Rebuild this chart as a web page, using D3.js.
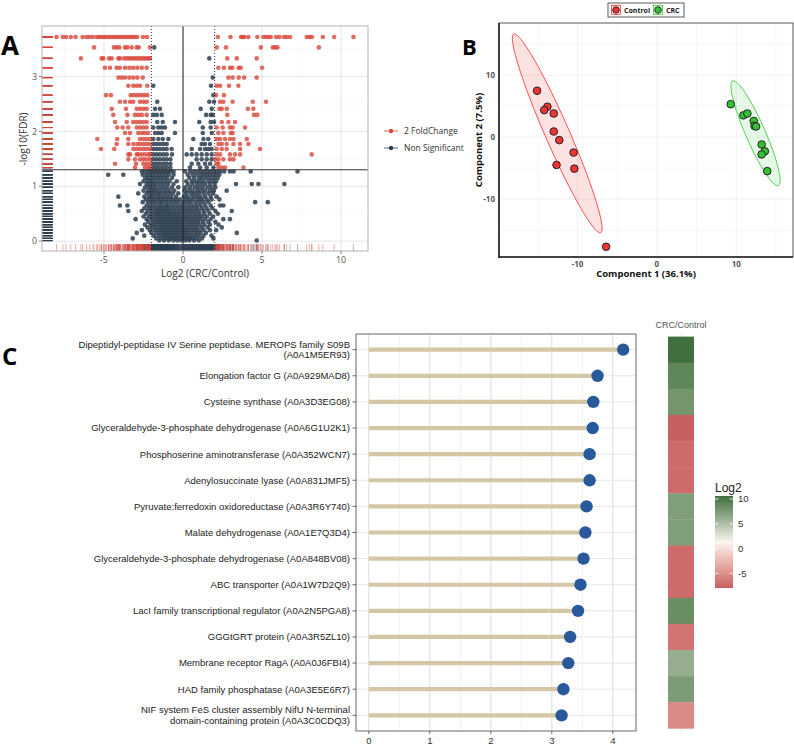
<!DOCTYPE html>
<html><head><meta charset="utf-8">
<script src="https://cdn.jsdelivr.net/npm/d3@7"></script>
<style>body{margin:0;background:#fff}</style>
</head><body><svg id="c" width="794" height="745" xmlns="http://www.w3.org/2000/svg"></svg>
<script>
// ================= DATA =================
// Panel A: volcano plot. Significant (red) points by -log10(FDR) level
const sigLevels = [3.72, 3.53, 3.33, 3.16, 2.98, 2.83, 2.66, 2.54, 2.41, 2.30, 2.17, 2.07, 1.97, 1.86, 1.77, 1.68, 1.58, 1.49, 1.41, 1.34];
const sigX = [
  [-8.0,-7.6,-7.4,-7.1,-6.8,-6.35,-6.1,-5.9,-5.7,-5.45,-5.3,-5.15,-5.0,-4.85,-4.7,-4.55,-4.4,-4.25,-4.1,-3.95,-3.8,-3.65,-3.5,-3.35,-3.2,-3.05,-2.9,-2.53,-2.28,2.2,3.0,3.67,3.78,3.88,4.13,4.7,5.08,5.25,5.4,5.55,5.89,6.1,6.39,6.56,6.77,7.83,8.0,8.15,8.84,9.56,10.78],
  [-5.63,-4.37,-4.2,-4.03,-3.67,-3.52,-3.25,-2.93,-2.8,-2.09,2.13,2.72,4.92,5.68,5.82,5.97,8.59],
  [-6.46,-5.15,-5.04,-4.68,-4.51,-4.09,-3.99,-3.73,-3.55,-3.4,-3.25,-3.1,-2.95,-2.8,-2.65,-2.5,-2.35,-2.2,-2.09,2.8,3.4,4.66],
  [-4.94,-4.62,-4.2,-4.0,-3.67,-3.4,-3.15,-2.89,-2.61,-2.3,2.23,2.59,2.97,3.12,3.52,3.65,5.0],
  [-4.09,-3.88,-3.67,-3.4,-3.15,-2.89,-2.55,2.87,3.14,3.52,3.86,4.66],
  [-3.46,-3.15,-2.93,-2.72,-2.26,2.13,2.34,2.91,3.5],
  [-4.87,-4.56,-3.31,-3.1,-2.89,-2.68,-2.47,-2.26,2.09,2.59],
  [-3.99,-3.67,-3.35,-3.15,-2.72,-2.51,-2.3,2.34,2.55,3.14,4.41,5.25],
  [-4.51,-3.61,-2.93,-2.72,-2.51,-2.3,2.3,2.45,2.77,4.1,4.45],
  [-4.41,-3.52,-3.04,-2.83,-2.61,-2.3,2.8,4.49,4.7],
  [-4.3,-3.56,-3.15,-2.93,-2.72,-2.51,-2.3,2.45,2.87,3.29],
  [-4.16,-3.82,-3.46,-2.93,-2.72,-2.51,-2.3,2.13,2.51,2.97,3.14,3.92],
  [-3.67,-3.35,-2.83,-2.61,-2.41,-2.2,2.23,2.55,3.02,3.14],
  [-5.42,-4.16,-3.46,-2.72,-2.51,-2.3,-2.1,2.13,2.34,2.66,2.97,3.19,4.03],
  [-4.2,-3.46,-3.14,-2.89,-2.72,-2.51,-2.3,-2.09,2.24,2.45,2.76,3.19,3.61,4.14],
  [-5.19,-4.35,-3.14,-2.93,-2.72,-2.51,-2.3,-2.09,2.13,2.45,2.76,3.61,4.87],
  [-3.46,-3.35,-2.93,-2.83,-2.62,-2.41,-2.19,-2.09,2.13,2.34,2.97,3.29,3.61,8.14],
  [-3.46,-3.04,-2.72,-2.51,-2.3,-2.09,2.03,2.24,2.55,2.97,3.19],
  [-4.3,-2.97,-2.51,-2.3,-2.09,2.13,2.24],
  [-3.04,-2.41,-2.19,-2.09,2.24,2.45,2.66,3.82]
];
// Non-significant points at the same levels (|log2FC| < 2)
const nsHighX = [
  [], [-1.82], [1.66], [], [1.88], [-1.88,1.77], [1.92], [-1.63,1.66,1.96],
  [-1.77,-1.46,1.12,1.82], [-1.88,-1.66,-1.35,1.46,1.75,1.88],
  [-1.63,-1.28,-0.51,1.03,1.75,1.96], [-1.88,-1.56,-1.35,-1.14,1.25,1.75],
  [-1.77,-1.56,-1.35,-0.51,1.25,1.82], [-1.88,-1.56,-1.28,-0.93,0.65,1.29,1.6],
  [-1.88,-1.67,-1.46,-1.24,-1.03,1.18,1.39,1.71],
  [-1.88,-1.67,-1.46,-1.24,-1.03,-0.72,0.55,1.08,1.39,1.6,1.81],
  [-1.88,-1.67,-1.46,-1.24,-1.03,-0.7,0.23,0.55,0.86,1.18,1.5,1.81],
  [-1.88,-1.67,-1.46,-1.24,-1.03,-0.8,0.86,1.18,1.5,1.81],
  [-1.88,-1.67,-1.46,-1.24,-1.03,-0.8,0.55,0.97,1.39,1.71],
  [-1.88,-1.67,-1.46,-1.24,-1.03,-0.8,0.44,1.08,1.5,1.92]
];
// Non-significant points below the FDR threshold
const nsLowLevels = [1.27,1.21,1.15,1.09,1.04,0.98,0.92,0.87,0.81,0.76,0.71,0.65,0.60,0.55,0.50,0.45,0.40,0.35,0.30,0.25,0.20,0.15,0.10,0.05,0.01];
const nsLowX = [
  [-2.6,-2.4,-2.2,-2.0,-1.85,-1.7,-1.55,-1.4,-1.25,-1.1,-0.95,-0.8,-0.6,0.13,0.45,0.7,0.95,1.15,1.35,1.55,1.75,1.95,2.15,2.35,2.6,2.97,3.2,4.28,7.24],
  [-4.73,-3.78,-2.55,-2.3,-2.1,-1.9,-1.7,-1.5,-1.3,-1.1,-0.9,-0.6,0.3,0.6,0.85,1.1,1.3,1.5,1.7,1.9,2.1,2.3],
  [-2.4,-2.2,-2.0,-1.8,-1.6,-1.4,-1.2,-1.0,-0.7,0.4,0.7,1.0,1.2,1.45,1.7,1.95,2.2],
  [-2.5,-2.25,-2.05,-1.85,-1.6,-1.35,-1.1,-0.85,-0.4,0.2,0.55,0.8,1.05,1.3,1.6,1.85,2.1],
  [-2.72,-2.3,-2.1,-1.9,-1.7,-1.45,-1.2,-0.95,-0.6,0.3,0.6,0.9,1.15,1.4,1.7,2.0,3.35,4.35,4.77,6.41],
  [-2.4,-2.15,-1.95,-1.75,-1.5,-1.25,-1.0,-0.7,-0.3,0.15,0.45,0.75,1.0,1.25,1.55,1.8,2.05],
  [-2.5,-2.2,-2.0,-1.8,-1.6,-1.35,-1.1,-0.85,-0.55,0.1,0.35,0.6,0.9,1.15,1.4,1.7,1.95,2.76],
  [-2.83,-2.3,-2.05,-1.85,-1.6,-1.4,-1.15,-0.9,-0.65,-0.3,0.2,0.5,0.75,1.0,1.3,1.6,1.9],
  [-4.09,-2.45,-2.15,-1.95,-1.7,-1.5,-1.25,-1.0,-0.75,-0.45,0.05,0.3,0.6,0.85,1.1,1.4,1.75,2.13],
  [-2.35,-2.1,-1.85,-1.6,-1.4,-1.2,-0.95,-0.7,-0.45,-0.2,0.15,0.4,0.65,0.95,1.2,1.5,1.8,2.3],
  [-2.55,-2.2,-1.95,-1.75,-1.5,-1.3,-1.05,-0.8,-0.55,-0.3,0.0,0.25,0.5,0.8,1.05,1.3,1.6,4.56,5.36],
  [-3.99,-3.52,-2.3,-2.05,-1.8,-1.55,-1.35,-1.1,-0.9,-0.65,-0.4,-0.15,0.1,0.35,0.6,0.85,1.1,1.4,1.75,2.34,2.55],
  [-2.45,-2.15,-1.9,-1.65,-1.45,-1.25,-1.05,-0.85,-0.6,-0.35,-0.1,0.15,0.4,0.65,0.9,1.2,1.5,1.85],
  [-3.46,-2.61,-2.25,-2.0,-1.75,-1.55,-1.35,-1.15,-0.95,-0.75,-0.5,-0.25,0.0,0.25,0.5,0.75,1.0,1.3,1.6,2.05,3.08],
  [-2.35,-2.05,-1.8,-1.6,-1.4,-1.2,-1.0,-0.8,-0.6,-0.4,-0.2,0.05,0.3,0.55,0.8,1.05,1.35,1.7,2.2],
  [-2.5,-2.15,-1.9,-1.65,-1.45,-1.25,-1.05,-0.85,-0.65,-0.45,-0.25,0.0,0.2,0.45,0.7,0.95,1.2,1.5,1.9],
  [-3.0,-2.3,-2.0,-1.75,-1.55,-1.35,-1.15,-0.95,-0.75,-0.55,-0.35,-0.15,0.1,0.35,0.6,0.85,1.1,1.4,1.75,2.55,2.97],
  [-2.2,-1.9,-1.65,-1.45,-1.25,-1.05,-0.85,-0.65,-0.45,-0.25,-0.05,0.2,0.45,0.7,0.95,1.25,1.6,2.05],
  [-2.41,-2.05,-1.8,-1.55,-1.35,-1.15,-0.95,-0.75,-0.55,-0.35,-0.15,0.05,0.3,0.55,0.8,1.05,1.35,1.7,2.24],
  [-2.25,-1.95,-1.7,-1.45,-1.25,-1.05,-0.85,-0.65,-0.45,-0.25,-0.05,0.15,0.4,0.65,0.9,1.2,1.55,2.45],
  [-2.6,-2.1,-1.8,-1.55,-1.35,-1.15,-0.95,-0.75,-0.55,-0.35,-0.15,0.05,0.25,0.5,0.75,1.0,1.3,1.7,2.1],
  [-2.93,-2.0,-1.7,-1.45,-1.25,-1.05,-0.85,-0.65,-0.45,-0.25,-0.05,0.15,0.35,0.6,0.85,1.1,1.45,3.4],
  [-2.45,-1.85,-1.55,-1.3,-1.1,-0.9,-0.7,-0.5,-0.3,-0.1,0.1,0.3,0.5,0.75,1.0,1.3,1.8],
  [-3.18,-1.7,-1.4,-1.15,-0.95,-0.75,-0.55,-0.35,-0.15,0.05,0.25,0.45,0.65,0.9,1.2,1.92],
  [-1.5,-1.2,-0.9,-0.6,-0.35,-0.1,0.15,0.4,0.7,1.0,4.66]
];
const volcanoXTicks = [-5, 0, 5, 10];
const volcanoYTicks = [0, 1, 2, 3];
const volcanoLegend = ["2 FoldChange", "Non Significant"];

// Panel B: PCA scores
const controlPC1 = [-15.1,-13.8,-14.2,-13.0,-13.0,-12.3,-10.5,-12.65,-10.4,-6.4];
const controlPC2 = [7.47,4.9,4.35,3.8,0.9,-0.5,-2.5,-4.5,-5.1,-17.7];
const crcPC1 = [9.3,10.9,11.4,12.2,12.3,12.5,13.2,13.6,13.2,13.9];
const crcPC2 = [5.3,3.5,3.8,2.6,1.8,1.7,-1.2,-2.3,-2.8,-5.5];
const pcaTicks = [-10, 0, 10];
const pcaGroups = ["Control", "CRC"];

// Panel C: lollipop + heatmap
const proteins = [
  "Dipeptidyl-peptidase IV Serine peptidase. MEROPS family S09B\n(A0A1M5ER93)",
  "Elongation factor G (A0A929MAD8)",
  "Cysteine synthase (A0A3D3EG08)",
  "Glyceraldehyde-3-phosphate dehydrogenase (A0A6G1U2K1)",
  "Phosphoserine aminotransferase (A0A352WCN7)",
  "Adenylosuccinate lyase (A0A831JMF5)",
  "Pyruvate:ferredoxin oxidoreductase (A0A3R6Y740)",
  "Malate dehydrogenase (A0A1E7Q3D4)",
  "Glyceraldehyde-3-phosphate dehydrogenase (A0A848BV08)",
  "ABC transporter (A0A1W7D2Q9)",
  "LacI family transcriptional regulator (A0A2N5PGA8)",
  "GGGtGRT protein (A0A3R5ZL10)",
  "Membrane receptor RagA (A0A0J6FBI4)",
  "HAD family phosphatase (A0A3E5E6R7)",
  "NIF system FeS cluster assembly NifU N-terminal\ndomain-containing protein (A0A3C0CDQ3)"
];
const importance = [4.17,3.75,3.68,3.67,3.62,3.62,3.57,3.55,3.52,3.47,3.43,3.30,3.27,3.19,3.16];
const log2FC = [10.6,9.0,7.9,-7.95,-7.3,-7.3,7.3,7.3,-7.3,-7.3,8.4,-6.7,6.2,7.5,-5.3];
const importanceTicks = [0,1,2,3,4];
const log2Ticks = [10,5,0,-5];

// ================= DRAW =================
const svg = d3.select("#c");
const OS = "'Open Sans', 'Noto Sans', sans-serif";
const LS = "'Liberation Sans', Arial, sans-serif";

// ---------- Panel A ----------
(function(){
  const x = d3.scaleLinear().domain([-8.92, 11.7]).range([42, 368]);
  const y = d3.scaleLinear().domain([-0.18, 3.92]).range([251, 26]);
  const g = svg.append("g");
  const RED = "#d8463a", DARK = "#2c3e50";
  g.append("rect").attr("x",42).attr("y",26).attr("width",326).attr("height",225).attr("fill","#fff");
  const minorX = [-7.5,-2.5,2.5,7.5], minorY = [0.5,1.5,2.5,3.5];
  g.selectAll(".mx").data(minorX).join("line").attr("x1",d=>x(d)).attr("x2",d=>x(d)).attr("y1",26).attr("y2",251).attr("stroke","#f2f2f2").attr("stroke-width",0.6);
  g.selectAll(".my").data(minorY).join("line").attr("y1",d=>y(d)).attr("y2",d=>y(d)).attr("x1",42).attr("x2",368).attr("stroke","#f2f2f2").attr("stroke-width",0.6);
  g.selectAll(".gx").data(volcanoXTicks).join("line").attr("x1",d=>x(d)).attr("x2",d=>x(d)).attr("y1",26).attr("y2",251).attr("stroke","#e3e3e3").attr("stroke-width",0.9);
  g.selectAll(".gy").data(volcanoYTicks).join("line").attr("y1",d=>y(d)).attr("y2",d=>y(d)).attr("x1",42).attr("x2",368).attr("stroke","#e3e3e3").attr("stroke-width",0.9);

  const pts = [];
  nsLowLevels.forEach((lv,i)=>nsLowX[i].forEach(v=>pts.push({x:v,y:lv,s:false})));
  sigLevels.forEach((lv,i)=>nsHighX[i].forEach(v=>pts.push({x:v,y:lv,s:false})));
  sigLevels.forEach((lv,i)=>sigX[i].forEach(v=>pts.push({x:v,y:lv,s:true})));

  // rugs
  g.selectAll(".rl").data(pts).join("line").attr("x1",42).attr("x2",42+10.5).attr("y1",d=>y(d.y)).attr("y2",d=>y(d.y))
    .attr("stroke",d=>d.s?RED:DARK).attr("stroke-opacity",0.55).attr("stroke-width",0.8);
  g.selectAll(".rb").data(pts).join("line").attr("y1",251).attr("y2",251-6.8).attr("x1",d=>x(d.x)).attr("x2",d=>x(d.x))
    .attr("stroke",d=>d.s?RED:DARK).attr("stroke-opacity",0.55).attr("stroke-width",0.8);

  g.selectAll(".p").data(pts).join("circle").attr("cx",d=>x(d.x)).attr("cy",d=>y(d.y)).attr("r",2.3)
    .attr("fill",d=>d.s?RED:DARK).attr("fill-opacity",d=>d.s?0.8:0.85);

  // reference lines
  g.append("line").attr("x1",42).attr("x2",368).attr("y1",y(1.3)).attr("y2",y(1.3)).attr("stroke","#333").attr("stroke-width",1);
  g.append("line").attr("x1",x(0)).attr("x2",x(0)).attr("y1",26).attr("y2",251).attr("stroke","#222").attr("stroke-width",1);
  [-2,2].forEach(v=>g.append("line").attr("x1",x(v)).attr("x2",x(v)).attr("y1",26).attr("y2",251).attr("stroke","#222").attr("stroke-width",0.9).attr("stroke-dasharray","1,2"));

  g.append("rect").attr("x",42).attr("y",26).attr("width",326).attr("height",225).attr("fill","none").attr("stroke","#b3b3b3").attr("stroke-width",1);

  // ticks
  g.selectAll(".tx").data(volcanoXTicks).join("line").attr("x1",d=>x(d)).attr("x2",d=>x(d)).attr("y1",251).attr("y2",254).attr("stroke","#888");
  g.selectAll(".txl").data(volcanoXTicks).join("text").attr("x",d=>x(d)).attr("y",263).attr("text-anchor","middle")
    .attr("font-family",OS).attr("font-size",8.8).attr("fill","#555").text(d=>d);
  g.selectAll(".ty").data(volcanoYTicks).join("line").attr("x1",39).attr("x2",42).attr("y1",d=>y(d)).attr("y2",d=>y(d)).attr("stroke","#888");
  g.selectAll(".tyl").data(volcanoYTicks).join("text").attr("x",37).attr("y",d=>y(d)+3.2).attr("text-anchor","end")
    .attr("font-family",OS).attr("font-size",8.8).attr("fill","#555").text(d=>d);
  g.append("text").attr("transform","translate(27,139) rotate(-90)").attr("text-anchor","middle")
    .attr("font-family",OS).attr("font-size",10).attr("fill","#333").text("-log10(FDR)");
  g.append("text").attr("x",205).attr("y",276.5).attr("text-anchor","middle")
    .attr("font-family",OS).attr("font-size",10).attr("fill","#333").text("Log2 (CRC/Control)");

  // legend
  const lg = g.append("g");
  volcanoLegend.forEach((t,i)=>{
    const yy = 131 + i*17;
    const c = i===0?RED:DARK;
    lg.append("line").attr("x1",384).attr("x2",398).attr("y1",yy).attr("y2",yy).attr("stroke",c).attr("stroke-width",0.8);
    lg.append("circle").attr("cx",391).attr("cy",yy).attr("r",2.2).attr("fill",c);
    lg.append("text").attr("x",404).attr("y",yy+3).attr("font-family",OS).attr("font-size",8.5).attr("fill","#333").text(t);
  });
  svg.append("text").attr("x",1).attr("y",55).attr("font-family",OS).attr("font-weight",700).attr("font-size",26).attr("fill","#000").text("A");
})();

// ---------- Panel B ----------
(function(){
  const x = d3.scaleLinear().domain([-19.9, 17.15]).range([499, 793]);
  const y = d3.scaleLinear().domain([-19.35, 18.4]).range([257, 23]);
  const g = svg.append("g");
  const RED = "#ee3434", GREEN = "#33c233";
  const grid = [-15,-10,-5,0,5,10,15];
  g.selectAll(".gx").data(grid).join("line").attr("x1",d=>x(d)).attr("x2",d=>x(d)).attr("y1",23).attr("y2",257).attr("stroke",d=>d%10===0?"#ececec":"#f4f4f4").attr("stroke-width",0.8);
  g.selectAll(".gy").data(grid).join("line").attr("y1",d=>y(d)).attr("y2",d=>y(d)).attr("x1",499).attr("x2",793).attr("stroke",d=>d%10===0?"#ececec":"#f4f4f4").attr("stroke-width",0.8);

  function covTrob(P, nu){
    const n=P.length, p=2;
    let w=P.map(()=>1);
    let loc=[d3.mean(P,d=>d[0]), d3.mean(P,d=>d[1])];
    let X;
    for(let it=0; it<100; it++){
      const w0=w.slice();
      X=P.map(d=>[d[0]-loc[0], d[1]-loc[1]]);
      const sw=d3.sum(w);
      let a=0,b=0,c=0;
      X.forEach((d,i)=>{a+=w[i]*d[0]*d[0]; b+=w[i]*d[0]*d[1]; c+=w[i]*d[1]*d[1];});
      a/=sw; b/=sw; c/=sw;
      const det=a*c-b*b;
      const Q=X.map(d=>(c*d[0]*d[0]-2*b*d[0]*d[1]+a*d[1]*d[1])/det);
      w=Q.map(q=>(nu+p)/(nu+q));
      const s2=d3.sum(w);
      loc=[d3.sum(P,(d,i)=>w[i]*d[0])/s2, d3.sum(P,(d,i)=>w[i]*d[1])/s2];
      if(w.every((v,i)=>Math.abs(v-w0[i])<1e-4)) break;
    }
    let a=0,b=0,c=0;
    X.forEach((d,i)=>{a+=w[i]*d[0]*d[0]; b+=w[i]*d[0]*d[1]; c+=w[i]*d[1]*d[1];});
    return {loc, a:a/n, b:b/n, c:c/n};
  }
  function ellipse(px, py){
    const P = px.map((v,i)=>[v, py[i]]);
    const e = covTrob(P, 5);
    const r = Math.sqrt(2*4.2565); // sqrt(2 * qf(0.95, 2, 9))
    const r11=Math.sqrt(e.a), r12=e.b/r11, r22=Math.sqrt(e.c-r12*r12);
    return d3.range(0,101).map(k=>{const t=2*Math.PI*k/100; return [e.loc[0]+r*Math.cos(t)*r11, e.loc[1]+r*(Math.cos(t)*r12+Math.sin(t)*r22)];});
  }
  const line = d3.line().x(d=>x(d[0])).y(d=>y(d[1]));
  g.append("path").attr("d",line(ellipse(controlPC1,controlPC2))+"Z").attr("fill",RED).attr("fill-opacity",0.14).attr("stroke","#ff3b3b").attr("stroke-width",0.9);
  g.append("path").attr("d",line(ellipse(crcPC1,crcPC2))+"Z").attr("fill",GREEN).attr("fill-opacity",0.12).attr("stroke","#3ccc3c").attr("stroke-width",0.9);

  g.selectAll(".pc").data(controlPC1.map((v,i)=>[v,controlPC2[i]])).join("circle").attr("cx",d=>x(d[0])).attr("cy",d=>y(d[1])).attr("r",3.8).attr("fill",RED).attr("stroke","#222").attr("stroke-width",1);
  g.selectAll(".pg").data(crcPC1.map((v,i)=>[v,crcPC2[i]])).join("circle").attr("cx",d=>x(d[0])).attr("cy",d=>y(d[1])).attr("r",3.8).attr("fill",GREEN).attr("stroke","#222").attr("stroke-width",1);

  g.append("rect").attr("x",499).attr("y",23).attr("width",294).attr("height",234).attr("fill","none").attr("stroke","#444").attr("stroke-width",0.9);
  g.append("line").attr("x1",499).attr("x2",499).attr("y1",23).attr("y2",257.7).attr("stroke","#222").attr("stroke-width",1.6);
  g.append("line").attr("x1",498.2).attr("x2",793).attr("y1",257).attr("y2",257).attr("stroke","#222").attr("stroke-width",1.6);

  g.selectAll(".tx").data(pcaTicks).join("text").attr("x",d=>x(d)).attr("y",266.5).attr("text-anchor","middle")
    .attr("font-family",OS).attr("font-weight",700).attr("font-size",8).attr("fill","#555").text(d=>d);
  g.selectAll(".ty").data(pcaTicks).join("text").attr("x",495).attr("y",d=>y(d)+3).attr("text-anchor","end")
    .attr("font-family",OS).attr("font-weight",700).attr("font-size",8).attr("fill","#555").text(d=>d);
  g.append("text").attr("transform","translate(482,140) rotate(-90)").attr("text-anchor","middle")
    .attr("font-family",OS).attr("font-weight",700).attr("font-size",9.5).attr("fill","#111").text("Component 2 (7.5%)");
  g.append("text").attr("x",646).attr("y",277).attr("text-anchor","middle")
    .attr("font-family",OS).attr("font-weight",700).attr("font-size",9.5).attr("fill","#111").text("Component 1 (36.1%)");

  // legend
  const lg = g.append("g");
  lg.append("rect").attr("x",608).attr("y",3).attr("width",76).attr("height",14).attr("fill","#fff").attr("stroke","#333").attr("stroke-width",0.8);
  const cols=[RED,GREEN], strokes=["#ff3b3b","#3ccc3c"], kx=[611.5,653.5];
  pcaGroups.forEach((t,i)=>{
    lg.append("rect").attr("x",kx[i]).attr("y",5.5).attr("width",9).attr("height",9).attr("fill",cols[i]).attr("fill-opacity",0.14).attr("stroke",strokes[i]).attr("stroke-width",0.8);
    lg.append("circle").attr("cx",kx[i]+4.5).attr("cy",10).attr("r",3.3).attr("fill",cols[i]).attr("stroke","#222").attr("stroke-width",0.9);
    lg.append("text").attr("x",kx[i]+12.5).attr("y",12.6).attr("font-family",OS).attr("font-weight",700).attr("font-size",7).attr("fill","#222").text(t);
  });
  svg.append("text").attr("x",462).attr("y",55).attr("font-family",OS).attr("font-weight",700).attr("font-size",22).attr("fill","#000").text("B");
})();

// ---------- Panel C ----------
(function(){
  const x = d3.scaleLinear().domain([-0.21, 4.38]).range([356, 636]);
  const y = d3.scalePoint().domain(proteins).range([334, 731]).padding(0.6);
  const g = svg.append("g");
  const minor=[0.5,1.5,2.5,3.5];
  g.selectAll(".mx").data(minor).join("line").attr("x1",d=>x(d)).attr("x2",d=>x(d)).attr("y1",334).attr("y2",731).attr("stroke","#ececec").attr("stroke-width",0.7);
  g.selectAll(".gx").data(importanceTicks).join("line").attr("x1",d=>x(d)).attr("x2",d=>x(d)).attr("y1",334).attr("y2",731).attr("stroke","#d9d9d9").attr("stroke-width",0.9);
  g.selectAll(".gy").data(proteins).join("line").attr("y1",d=>y(d)).attr("y2",d=>y(d)).attr("x1",356).attr("x2",636).attr("stroke","#e3e3e3").attr("stroke-width",0.9);
  g.selectAll(".stem").data(proteins).join("line").attr("x1",x(0)).attr("x2",(d,i)=>x(importance[i])).attr("y1",d=>y(d)).attr("y2",d=>y(d))
    .attr("stroke","#d3c7a6").attr("stroke-width",4.2);
  g.selectAll(".dot").data(proteins).join("circle").attr("cx",(d,i)=>x(importance[i])).attr("cy",d=>y(d)).attr("r",6.2).attr("fill","#28599a");
  g.append("rect").attr("x",356).attr("y",334).attr("width",280).attr("height",397).attr("fill","none").attr("stroke","#555").attr("stroke-width",0.9);
  g.selectAll(".ty").data(proteins).join("line").attr("x1",352.5).attr("x2",356).attr("y1",d=>y(d)).attr("y2",d=>y(d)).attr("stroke","#444").attr("stroke-width",0.8);
  g.selectAll(".tyl").data(proteins).join("text").attr("text-anchor","end").attr("font-family",LS).attr("font-size",9.5).attr("fill","#222")
    .each(function(d){
      const lines=d.split("\n"); const t=d3.select(this);
      const y0=y(d)+3.4-(lines.length-1)*10.6/2;
      lines.forEach((l,k)=>t.append("tspan").attr("x",350).attr("y",y0+k*10.6).text(l));
    });
  g.selectAll(".tx").data(importanceTicks).join("line").attr("x1",d=>x(d)).attr("x2",d=>x(d)).attr("y1",731).attr("y2",734).attr("stroke","#444").attr("stroke-width",0.8);
  g.selectAll(".txl").data(importanceTicks).join("text").attr("x",d=>x(d)).attr("y",744).attr("text-anchor","middle")
    .attr("font-family",LS).attr("font-size",9.6).attr("fill","#333").text(d=>d);

  // heatmap
  const ext = d3.extent(log2FC);
  const color = d3.scaleLinear().domain([ext[0], (ext[0]+ext[1])/2, ext[1]]).range(["#c86060","#fbf4f0","#40703f"]).interpolate(d3.interpolateLab);
  const step = y.step();
  g.append("line").attr("x1",681).attr("x2",681).attr("y1",333).attr("y2",732).attr("stroke","#eaeaea").attr("stroke-width",0.8);
  g.selectAll(".hg").data(proteins).join("line").attr("x1",665).attr("x2",697).attr("y1",d=>y(d)).attr("y2",d=>y(d)).attr("stroke","#eaeaea").attr("stroke-width",0.8);
  g.selectAll(".cell").data(proteins).join("rect").attr("x",668).attr("width",26).attr("y",d=>y(d)-step/2).attr("height",step+0.3)
    .attr("fill",(d,i)=>color(log2FC[i]));
  g.append("text").attr("x",681).attr("y",328).attr("text-anchor","middle").attr("font-family",LS).attr("font-size",9).attr("fill","#555").text("CRC/Control");

  // colour legend
  const ly = d3.scaleLinear().domain(ext).range([588, 496]);
  const defs = svg.append("defs");
  const grad = defs.append("linearGradient").attr("id","lg2").attr("x1",0).attr("x2",0).attr("y1",1).attr("y2",0);
  d3.range(0,21).forEach(k=>{const v=ext[0]+(ext[1]-ext[0])*k/20; grad.append("stop").attr("offset",k/20).attr("stop-color",color(v));});
  g.append("rect").attr("x",715).attr("y",496).attr("width",18).attr("height",92).attr("fill","url(#lg2)");
  g.selectAll(".lt").data(log2Ticks).join("line").attr("x1",715).attr("x2",718.5).attr("y1",d=>ly(d)).attr("y2",d=>ly(d)).attr("stroke","#fff").attr("stroke-opacity",0.8);
  g.selectAll(".lt2").data(log2Ticks).join("line").attr("x1",729.5).attr("x2",733).attr("y1",d=>ly(d)).attr("y2",d=>ly(d)).attr("stroke","#fff").attr("stroke-opacity",0.8);
  g.selectAll(".ll").data(log2Ticks).join("text").attr("x",738).attr("y",d=>ly(d)+3.4).attr("font-family",LS).attr("font-size",9.6).attr("fill","#333").text(d=>d);
  g.append("text").attr("x",715).attr("y",492).attr("font-family",LS).attr("font-size",12).attr("fill","#222").text("Log2");

  svg.append("text").attr("x",2).attr("y",365).attr("font-family",OS).attr("font-weight",700).attr("font-size",24).attr("fill","#000").text("C");
})();
</script></body></html>
